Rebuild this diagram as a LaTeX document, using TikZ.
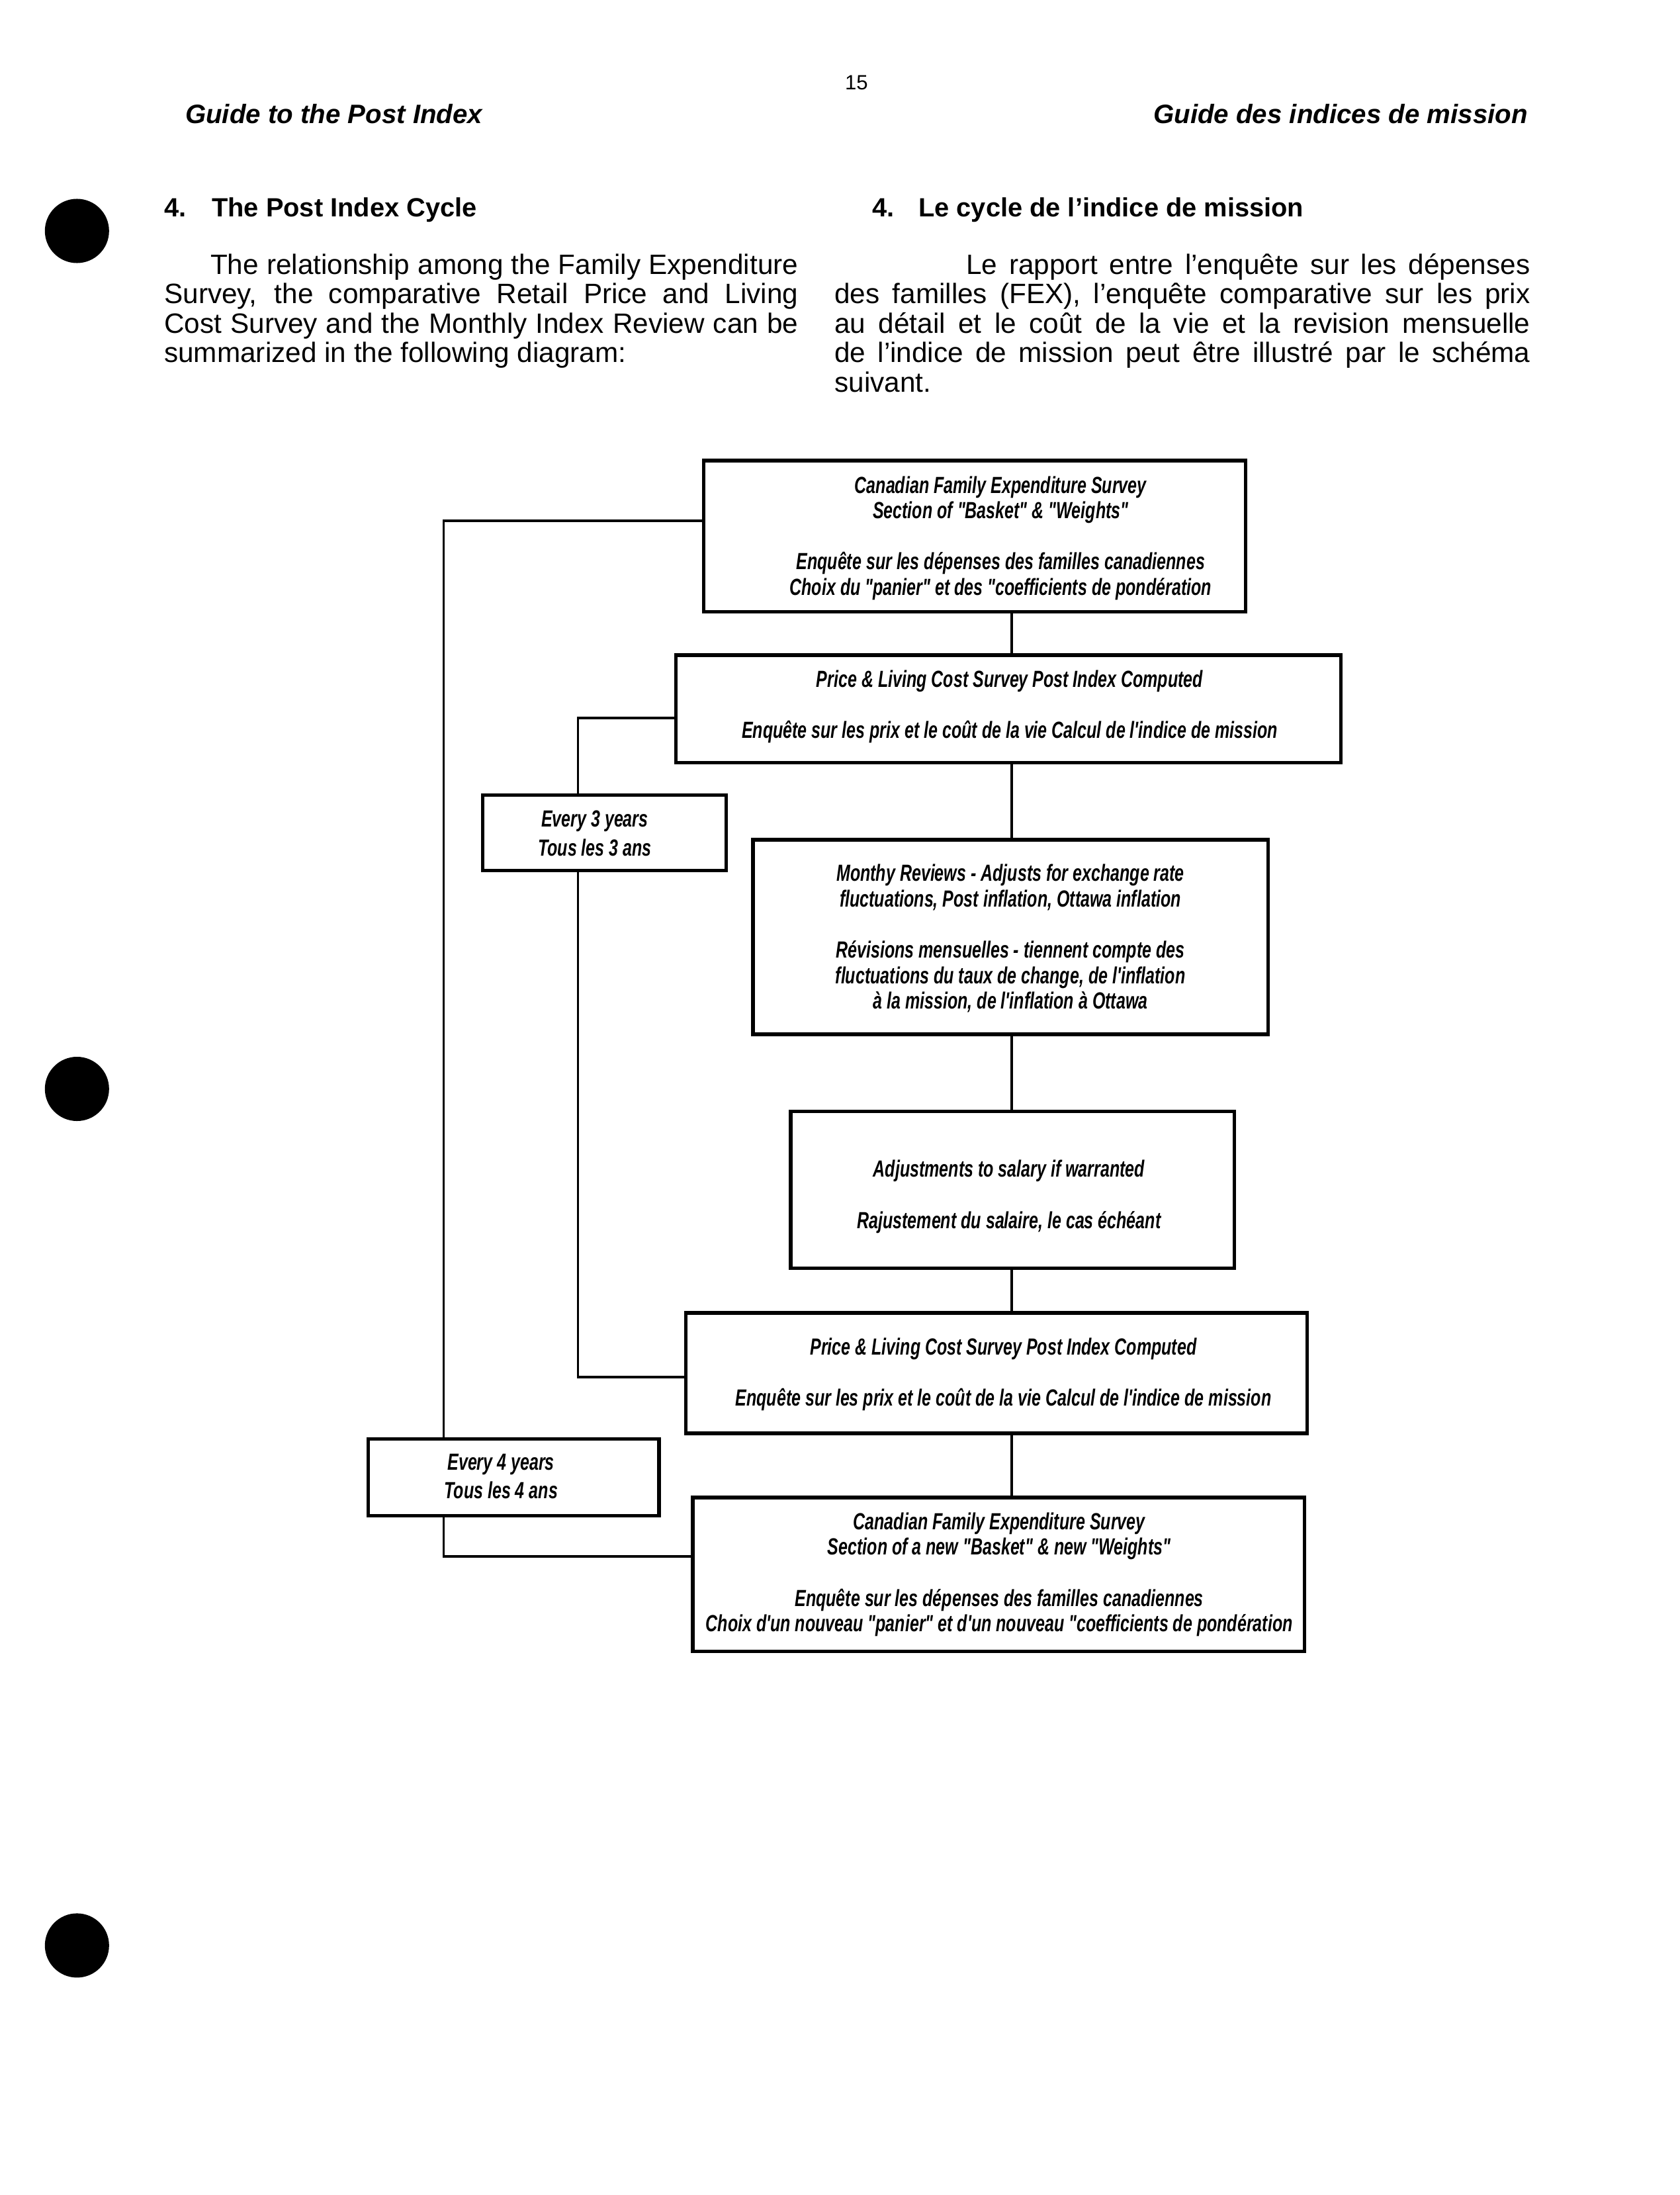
\documentclass[tikz,border=0pt]{standalone}
\usepackage{fontspec}
\setmainfont{Liberation Sans}
\newfontfamily\boxfont{Liberation Sans}[FakeStretch=0.71]
\tikzset{
  box/.style={draw, line width=1.3pt, fill=white, inner sep=0pt},
  link/.style={line width=0.9pt},
  btxt/.style={font=\boxfont\bfseries\itshape\fontsize{8.5}{9.3}\selectfont, align=center, inner sep=0pt},
  body/.style={font=\fontsize{10.2}{12}\selectfont, anchor=base west, inner sep=0pt},
  headR/.style={font=\bfseries\itshape\fontsize{9.7}{11}\selectfont, inner sep=0pt},
  sect/.style={font=\bfseries\fontsize{9.6}{11}\selectfont, anchor=base west, inner sep=0pt}
}
\begin{document}
\begin{tikzpicture}[x=0.51pt,y=-0.51pt]
\useasboundingbox (0,0) rectangle (1200,1568.3);
% page furniture
\node[font=\fontsize{7.5}{9}\selectfont, anchor=base, inner sep=0pt] (pnum) at (612,64) {15};
\node[headR, anchor=base west] (hl) at (132,88) {Guide to the Post Index};
\node[headR, anchor=base east] (hr) at (1092,88) {Guide des indices de mission};
\fill (55,165) circle[radius=11.7pt];
\fill (55,778) circle[radius=11.7pt];
\fill (55,1390) circle[radius=11.7pt];
% section titles
\node[sect] (sl1) at (117,155) {4.};
\node[sect] (sl2) at (151,155) {The Post Index Cycle};
\node[sect] (sr1) at (623,155) {4.};
\node[sect] (sr2) at (656,155) {Le cycle de l'indice de mission};
% left paragraph
\node[body] (pl1) at (150,196) {\makebox[214.2pt][s]{The relationship among the Family Expenditure}};
\node[body] (pl2) at (117,217) {\makebox[231pt][s]{Survey, the comparative Retail Price and Living}};
\node[body] (pl3) at (117,238) {\makebox[231pt][s]{Cost Survey and the Monthly Index Review can be}};
\node[body] (pl4) at (117,259) {summarized in the following diagram:};
% right paragraph
\node[body] (pr1) at (690,196) {\makebox[205.5pt][s]{Le rapport entre l'enquête sur les dépenses}};
\node[body] (pr2) at (596,217) {\makebox[253.5pt][s]{des familles (FEX), l'enquête comparative sur les prix}};
\node[body] (pr3) at (596,238) {\makebox[253.5pt][s]{au détail et le coût de la vie et la revision mensuelle}};
\node[body] (pr4) at (596,259) {\makebox[253.5pt][s]{de l'indice de mission peut être illustré par le schéma}};
\node[body] (pr5) at (596,280) {suivant.};
% main boxes
\node[box, minimum width=197.4pt, minimum height=55.1pt] (b1) at (696.5,383) {};
\node[box, minimum width=242.25pt, minimum height=39.27pt] (b2) at (720.5,506.5) {};
\node[box, minimum width=187.68pt, minimum height=70.89pt] (b4) at (722,669.5) {};
\node[box, minimum width=161.67pt, minimum height=57.12pt] (b5) at (723.5,850) {};
\node[box, minimum width=226.44pt, minimum height=43.86pt] (b6) at (712,981) {};
\node[box, minimum width=222.87pt, minimum height=56.1pt] (b8) at (713.5,1125) {};
% connectors
\coordinate (cx) at (723,0);
\coordinate (o1) at (317,372);
\coordinate (o2) at (317,1112);
\coordinate (i1) at (413,513);
\coordinate (i2) at (413,984);
\draw[link] (b1.south -| cx) -- (b2.north -| cx);
\draw[link] (b2.south -| cx) -- (b4.north -| cx);
\draw[link] (b4.south -| cx) -- (b5.north -| cx);
\draw[link] (b5.south -| cx) -- (b6.north -| cx);
\draw[link] (b6.south -| cx) -- (b8.north -| cx);
\draw[link] (b1.west |- o1) -- (o1) -- (o2) -- (b8.west |- o2);
\draw[link] (b2.west |- i1) -- (i1) -- (i2) -- (b6.west |- i2);
% side boxes over the loop lines
\node[box, minimum width=88.74pt, minimum height=27.54pt] (b3) at (432,595) {};
\node[box, minimum width=106.08pt, minimum height=28.05pt] (b7) at (367,1055.5) {};
% box texts
\node[btxt] (t1) at (715,384.5) {Canadian Family Expenditure Survey\\Section of "Basket" \& "Weights"\\[9.3pt]Enquête sur les dépenses des familles canadiennes\\Choix du "panier" et des "coefficients de pondération};
\node[btxt] (t2) at (721.5,505) {Price \& Living Cost Survey Post Index Computed\\[9.3pt]Enquête sur les prix et le coût de la vie Calcul de l'indice de mission};
\node[btxt] (t3) at (425,595.5) {Every 3 years\\[1.4pt]Tous les 3 ans};
\node[btxt] (t4) at (722,670.5) {Monthy Reviews - Adjusts for exchange rate\\fluctuations, Post inflation, Ottawa inflation\\[9.3pt]Révisions mensuelles - tiennent compte des\\fluctuations du taux de change, de l'inflation\\à la mission, de l'inflation à Ottawa};
\node[btxt] (t5) at (721,855) {Adjustments to salary if warranted\\[9.3pt]Rajustement du salaire, le cas échéant};
\node[btxt] (t6) at (717,982) {Price \& Living Cost Survey Post Index Computed\\[9.3pt]Enquête sur les prix et le coût de la vie Calcul de l'indice de mission};
\node[btxt] (t7) at (358,1055) {Every 4 years\\[1pt]Tous les 4 ans};
\node[btxt] (t8) at (714,1125) {Canadian Family Expenditure Survey\\Section of a new "Basket" \& new "Weights"\\[9.3pt]Enquête sur les dépenses des familles canadiennes\\Choix d'un nouveau "panier" et d'un nouveau "coefficients de pondération};
\end{tikzpicture}
\end{document}
